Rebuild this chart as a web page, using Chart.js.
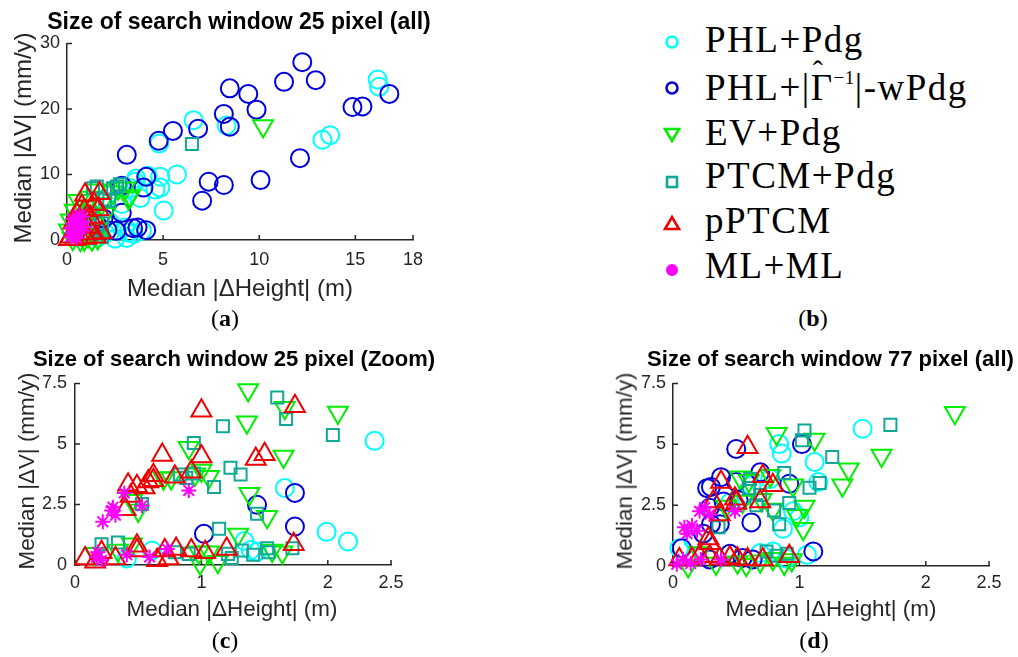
<!DOCTYPE html>
<html><head><meta charset="utf-8">
<script src="https://cdn.jsdelivr.net/npm/chart.js@4"></script>
<style>
html,body{margin:0;padding:0;background:#fff;width:1018px;height:657px;overflow:hidden;position:relative;font-family:'Liberation Sans',Arial,sans-serif;}
canvas{position:absolute;}
.t{position:absolute;white-space:nowrap;line-height:1;transform:translateX(-50%);color:#262626;}
.ttl{font-weight:bold;color:#000;}
.yl{position:absolute;white-space:nowrap;line-height:1;transform:translate(-50%,-50%) rotate(-90deg);color:#262626;}
.pl{position:absolute;white-space:nowrap;line-height:1;transform:translateX(-50%);font-family:'Liberation Serif',serif;font-size:24px;color:#000;}
.lg{position:absolute;left:705px;white-space:nowrap;line-height:1;font-family:'Liberation Serif',serif;font-size:37px;letter-spacing:1.5px;color:#000;}
.hat{position:relative;display:inline-block;}
.hat i{position:absolute;left:2px;top:-13px;font-style:normal;font-size:30px;}
.sup{position:relative;top:-16px;font-size:19px;letter-spacing:0.5px;}
</style></head><body>

<canvas id="ca" width="440" height="250" style="left:0px;top:30px;width:440px;height:250px"></canvas>
<canvas id="cc" width="440" height="235" style="left:0px;top:370px;width:440px;height:235px"></canvas>
<canvas id="cd" width="418" height="235" style="left:600px;top:370px;width:418px;height:235px"></canvas>

<div class="t ttl" style="left:239px;top:9.5px;font-size:23px">Size of search window 25 pixel (all)</div>
<div class="t" style="left:240px;top:276.4px;font-size:24px">Median |ΔHeight| (m)</div>
<div class="yl" style="left:23.4px;top:138px;font-size:24px">Median |ΔV| (mm/y)</div>
<div class="pl" style="left:225px;top:306px">(<b>a</b>)</div>

<div class="t ttl" style="left:234px;top:348.4px;font-size:22px">Size of search window 25 pixel (Zoom)</div>
<div class="t" style="left:232px;top:598px;font-size:22.4px">Median |ΔHeight| (m)</div>
<div class="yl" style="left:27.2px;top:471px;font-size:22.4px">Median |ΔV| (mm/y)</div>
<div class="pl" style="left:225px;top:628px">(<b>c</b>)</div>

<div class="t ttl" style="left:830.5px;top:348.4px;font-size:22px">Size of search window 77 pixel (all)</div>
<div class="t" style="left:831px;top:598px;font-size:22.4px">Median |ΔHeight| (m)</div>
<div class="yl" style="left:625.2px;top:471px;font-size:22.4px">Median |ΔV| (mm/y)</div>
<div class="pl" style="left:814px;top:628px">(<b>d</b>)</div>

<svg style="position:absolute;left:650px;top:20px" width="45" height="270">
  <circle cx="22" cy="22" r="5.5" fill="none" stroke="#00FFFF" stroke-width="2.6"/>
  <circle cx="22" cy="68" r="5.5" fill="none" stroke="#0000DD" stroke-width="2.6"/>
  <polygon points="15,109 29,109 22,121" fill="none" stroke="#00EE00" stroke-width="2.6" stroke-linejoin="miter"/>
  <rect x="17" y="157" width="10" height="10" fill="none" stroke="#12A898" stroke-width="2.6"/>
  <polygon points="15,209 29,209 22,197" fill="none" stroke="#EE0000" stroke-width="2.6"/>
  <circle cx="22" cy="250" r="6" fill="#FF00FF"/>
</svg>
<div class="lg" style="top:21px">PHL+Pdg</div>
<div class="lg" style="top:69px">PHL+|<span class="hat">Γ<i>ˆ</i></span><span class="sup">−1</span>|-wPdg</div>
<div class="lg" style="top:114px">EV+Pdg</div>
<div class="lg" style="top:157px">PTCM+Pdg</div>
<div class="lg" style="top:202px">pPTCM</div>
<div class="lg" style="top:247px">ML+ML</div>
<div class="pl" style="left:813px;top:306px">(<b>b</b>)</div>

<script>
// ---------------- DATA ----------------
const seriesNames = ['PHL+Pdg', 'PHL+|Γ̂⁻¹|-wPdg', 'EV+Pdg', 'PTCM+Pdg', 'pPTCM', 'ML+ML'];

// Panel (a): search window 25 px, all
const a_xTicks = [0, 5, 10, 15, 18];
const a_yTicks = [0, 10, 20, 30];
const a_phl = [[16.16,24.5],[16.24,23.4],[6.59,18.3],[8.3,17.5],[4.8,14.75],[13.29,15.3],[13.69,16],[5.72,10],[4.85,9.65],[4.85,8],[3.6,9.4],[3.81,6.4],[5.03,4.5],[3.29,7.9],[2.86,5.5],[3.54,8.9],[4.6,7.7],[2.6,1.4],[3.2,1.15],[3.9,1.4],[3.03,1.9],[2.24,2.65],[3.46,0.9],[3.1,0.3],[2.0,1.0],[1.6,0.4],[2.5,0.2],[4.2,9.8]];
const a_phlw = [[12.24,27.15],[11.29,24.15],[12.94,24.4],[8.47,23.15],[9.43,22.3],[9.86,19.9],[8.16,19.25],[8.47,17.3],[6.82,17],[5.51,16.65],[4.77,15.15],[3.11,13],[16.77,22.3],[14.85,20.3],[15.37,20.4],[12.12,12.5],[10.07,9.15],[7.37,8.9],[8.16,8.4],[7.03,6],[4.12,9.65],[3.98,8],[2.85,8.3],[2.85,4.15],[3.67,1.9],[4.12,1.5],[2.56,1.4],[3.44,1.8],[2.1,1.5],[1.6,2.2],[1.9,3.3]];
const a_ev = [[10.2,17.4],[3.03,7.9],[3.2,6.4],[2.66,7.9],[3.28,6.7],[2.4,7.3],[1.5,7.6],[1.2,6.5],[1.0,5.0],[0.6,6.0],[0.8,3.0],[0.2,3.0],[0.5,1.0],[0.3,0.2],[0.9,0.1],[1.3,0.1],[1.6,0.3],[2.0,4.0],[0.1,1.5],[1.8,5.5],[0.4,4.5],[1.1,0.6],[0.7,0.05],[1.4,2.5]];
const a_ptcm = [[6.5,14.65],[1.55,8.15],[2.6,8.15],[1.35,7.9],[2.4,7.9],[2.76,8.5],[1.82,0.5],[1.98,6.2],[1.82,2.5],[2.2,6.0],[1.2,4.0],[1.6,1.5]];
const a_pptcm = [[0.94,6.9],[1.69,7.15],[1.64,4.65],[1.81,1.15],[0.77,5.15],[0.33,2.65],[0.5,4.0],[1.2,3.5],[0.2,0.5],[0.6,1.0],[1.0,0.3],[1.4,5.5],[1.1,2.0],[0.4,0.1],[1.5,0.5],[0.1,0.1],[0.9,4.5],[1.3,1.0],[0.7,2.2]];
const a_ml = [[0.3,1.0],[0.4,2.0],[0.5,3.0],[0.6,2.5],[0.7,1.5],[0.2,0.5],[0.5,0.3],[0.8,3.5],[0.3,3.2],[0.6,1.0],[0.9,2.0],[0.4,0.7],[0.7,2.8],[0.2,1.8],[0.5,1.5],[0.35,2.5],[0.65,3.8],[0.45,1.2]];

// Panel (c): search window 25 px, zoom
const c_xTicks = [0, 1, 2, 2.5];
const c_yTicks = [0, 2.5, 5, 7.5];
const c_phl = [[2.37,5.13],[1.66,3.18],[1.99,1.37],[2.16,0.97],[1.34,0.99],[1.39,0.62],[0.61,0.6],[0.41,0.27],[1.44,0.55]];
const c_phlw = [[1.74,2.98],[1.44,2.49],[1.74,1.59],[1.02,1.29]];
const c_ev = [[1.37,7.23],[2.08,6.3],[1.36,5.9],[1.66,6.5],[0.9,4.84],[1.65,4.48],[1.38,2.94],[1.52,1.99],[1.29,1.26],[1.06,3.65],[1.0,3.9],[0.7,3.58],[0.5,2.25],[0.45,2.65],[0.34,0.6],[0.45,0.86],[0.98,0.53],[1.06,0.53],[1.13,0.13],[1.56,0.6],[1.64,0.53],[0.99,0.07],[0.16,0.46],[0.76,3.6],[0.95,3.75]];
const c_ptcm = [[1.6,6.92],[1.67,6.03],[1.17,5.73],[2.04,5.37],[0.94,5.04],[1.23,4.02],[1.31,3.74],[1.1,3.22],[0.94,3.78],[0.83,3.74],[1.44,2.12],[1.14,1.5],[0.53,2.52],[0.21,0.86],[0.34,0.93],[0.79,0.53],[0.9,0.46],[1.24,0.29],[1.32,0.6],[1.41,0.42],[1.52,0.69],[1.53,0.53],[1.72,0.69],[1.21,0.46],[0.88,3.6]];
const c_pptcm = [[1.0,6.37],[1.74,6.56],[0.69,4.55],[1.0,4.48],[1.43,4.38],[1.5,4.58],[0.92,3.85],[0.79,3.65],[0.62,3.71],[0.58,3.45],[0.49,3.25],[0.42,3.32],[0.44,2.85],[0.4,2.3],[0.08,0.27],[0.16,0.13],[0.21,0.53],[0.32,0.27],[0.49,0.8],[0.49,0.6],[0.65,0.2],[0.74,0.27],[0.8,0.66],[0.92,0.6],[1.03,0.53],[1.2,0.66],[1.73,0.86],[0.71,0.6],[0.62,3.5],[0.55,3.2]];
const c_ml = [[0.22,1.79],[0.29,2.25],[0.32,2.06],[0.3,2.39],[0.39,2.98],[0.53,2.45],[0.9,3.08],[0.17,0.33],[0.21,0.2],[0.41,0.42],[0.59,0.33],[0.73,0.66],[0.18,0.53]];

// Panel (d): search window 77 px, all
const d_xTicks = [0, 1, 2, 2.5];
const d_yTicks = [0, 2.5, 5, 7.5];
const d_phl = [[1.5,5.64],[0.84,5.01],[0.86,4.62],[1.12,4.27],[1.15,3.45],[0.95,2.25],[0.87,1.53],[0.77,3.58],[0.58,2.98],[1.06,0.46],[0.79,0.6],[0.69,0.53],[0.05,0.73],[0.16,1.06],[0.62,3.3],[0.9,0.3],[0.45,2.6],[1.0,2.0]];
const d_phlw = [[0.5,4.81],[1.02,5.01],[0.69,3.85],[0.92,3.38],[0.38,3.65],[0.3,3.25],[0.27,3.2],[0.5,3.45],[0.4,2.65],[0.29,2.39],[0.62,1.79],[1.11,0.6],[0.07,0.73],[0.3,1.72],[0.37,1.72],[0.29,0.27],[0.55,0.33],[0.63,0.27],[0.24,1.33],[0.45,0.5],[0.52,2.7]];
const d_ev = [[2.23,6.3],[0.82,5.44],[1.12,5.2],[1.65,4.54],[1.39,3.98],[1.34,3.32],[0.53,3.65],[0.77,3.71],[0.95,3.32],[0.79,2.32],[1.04,2.45],[0.98,2.06],[1.03,1.53],[0.7,2.72],[0.55,2.65],[0.42,2.45],[0.12,0.0],[0.34,0.1],[0.51,0.15],[0.58,0.05],[0.69,0.2],[0.79,0.3],[0.88,0.1],[0.94,0.25],[0.21,0.53],[0.6,3.5]];
const d_ptcm = [[1.72,5.8],[1.04,5.57],[1.02,5.17],[1.26,4.48],[1.16,3.41],[1.08,3.22],[0.88,3.82],[0.61,3.58],[0.69,2.92],[0.92,2.59],[0.8,2.28],[0.84,1.72],[0.36,1.59],[0.74,0.6],[0.82,0.42],[0.9,0.5],[0.6,3.2],[0.66,2.5]];
const d_pptcm = [[0.59,4.88],[0.71,3.69],[0.79,3.32],[0.38,3.45],[0.32,2.65],[0.49,2.76],[0.5,2.59],[0.69,2.65],[0.29,0.93],[0.28,1.13],[0.05,0.27],[0.15,0.3],[0.29,0.4],[0.37,0.3],[0.51,0.3],[0.59,0.27],[0.71,0.27],[0.92,0.4],[0.21,0.4],[0.37,2.12],[0.45,0.35]];
const d_ml = [[0.21,2.25],[0.29,2.12],[0.49,2.25],[0.15,1.66],[0.09,1.59],[0.11,1.33],[0.19,1.45],[0.08,0.27],[0.22,0.27],[0.38,0.27],[0.03,0.07],[0.14,0.1],[0.25,2.4]];

// ---------------- STYLE ----------------
const AXC = '#262626';
Chart.defaults.font.family = "'Liberation Sans', Arial, sans-serif";
const STY = [
  {color:'#00FFFF', style:'circle',   r:9,    rot:0,   order:6},
  {color:'#0000DD', style:'circle',   r:9,    rot:0,   order:5},
  {color:'#00EE00', style:'triangle', r:11.5, rot:180, order:4},
  {color:'#12A898', style:'rect',     r:8.5,  rot:0,   order:3},
  {color:'#EE0000', style:'triangle', r:11.5, rot:0,   order:2},
  {color:'#FF00FF', style:'star',     r:7.5,  rot:0,   order:1}
];

function buildSets(list) {
  return list.map((arr, i) => {
    const s = STY[i];
    return {
      label: seriesNames[i],
      data: arr.map(p => ({x: p[0], y: p[1]})),
      pointStyle: s.style, pointRadius: s.r, pointHoverRadius: s.r,
      pointBorderWidth: 2, pointBorderColor: s.color,
      pointBackgroundColor: 'rgba(0,0,0,0)', pointRotation: s.rot,
      borderColor: s.color, backgroundColor: 'rgba(0,0,0,0)',
      order: s.order, clip: false
    };
  });
}

const inwardTicks = {
  id: 'inwardTicks',
  beforeDatasetsDraw(chart) {
    const ctx = chart.ctx, a = chart.chartArea, xs = chart.scales.x, ys = chart.scales.y;
    ctx.save();
    ctx.strokeStyle = AXC; ctx.lineWidth = 1.5;
    ctx.beginPath();
    xs.ticks.forEach(t => { const p = xs.getPixelForValue(t.value); ctx.moveTo(p, a.bottom); ctx.lineTo(p, a.bottom - 5); });
    ys.ticks.forEach(t => { const p = ys.getPixelForValue(t.value); ctx.moveTo(a.left, p); ctx.lineTo(a.left + 5, p); });
    ctx.stroke();
    ctx.restore();
  }
};

function makeChart(id, list, c) {
  return new Chart(document.getElementById(id), {
    type: 'scatter',
    data: { datasets: buildSets(list) },
    plugins: [inwardTicks],
    options: {
      responsive: false, animation: false, devicePixelRatio: 1,
      layout: { padding: { top: c.padTop, right: c.padRight, left: 0, bottom: 0 } },
      plugins: { legend: { display: false }, tooltip: { enabled: false }, title: { display: false } },
      events: [],
      scales: {
        x: {
          type: 'linear', min: c.xmin, max: c.xmax,
          afterBuildTicks: s => { s.ticks = c.xt.map(v => ({value: v})); },
          afterFit: s => { s.height = c.xH; s.paddingLeft = 0; s.paddingRight = 0; s.paddingTop = 0; s.paddingBottom = 0; },
          grid: { display: false, drawTicks: false },
          border: { display: true, color: AXC, width: 1.5 },
          ticks: { color: AXC, font: { size: 18 }, padding: c.xPad, maxRotation: 0, autoSkip: false }
        },
        y: {
          type: 'linear', min: c.ymin, max: c.ymax,
          afterBuildTicks: s => { s.ticks = c.yt.map(v => ({value: v})); },
          afterFit: s => { s.width = c.yW; s.paddingTop = 0; s.paddingBottom = 0; s.paddingLeft = 0; s.paddingRight = 0; },
          grid: { display: false, drawTicks: false },
          border: { display: true, color: AXC, width: 1.5 },
          ticks: { color: AXC, font: { size: 18 }, padding: c.yPad, autoSkip: false }
        }
      }
    }
  });
}

makeChart('ca', [a_phl, a_phlw, a_ev, a_ptcm, a_pptcm, a_ml],
  {xmin: 0, xmax: 18, xt: a_xTicks, ymin: 0, ymax: 30, yt: a_yTicks, padTop: 8, padRight: 27, yW: 67, xH: 40, xPad: 9, yPad: 7});
makeChart('cc', [c_phl, c_phlw, c_ev, c_ptcm, c_pptcm, c_ml],
  {xmin: 0, xmax: 2.5, xt: c_xTicks, ymin: 0, ymax: 7.5, yt: c_yTicks, padTop: 6, padRight: 49, yW: 75, xH: 40, xPad: 7, yPad: 8});
makeChart('cd', [d_phl, d_phlw, d_ev, d_ptcm, d_pptcm, d_ml],
  {xmin: 0, xmax: 2.5, xt: d_xTicks, ymin: 0, ymax: 7.5, yt: d_yTicks, padTop: 7, padRight: 29, yW: 73, xH: 39, xPad: 6.5, yPad: 7});
</script>
</body></html>
